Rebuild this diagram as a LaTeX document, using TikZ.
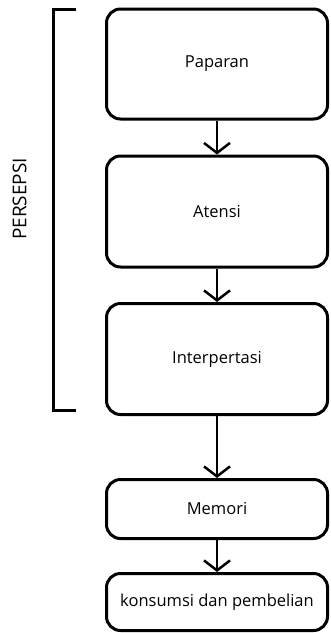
\documentclass[tikz,border=0pt]{standalone}
\usepackage{fontspec}
\setmainfont{Open Sans}
\usepackage{tikz}
\usetikzlibrary{arrows.meta, positioning}

\begin{document}
\begin{tikzpicture}[
	x=1pt, y=-1pt,
	stage/.style={rectangle,draw,line width=3pt,rounded corners=14pt,minimum width=221pt,font=\fontsize{16.5}{20}\selectfont},
	arrow/.style={line width=2.5pt,-{Straight Barb[length=10pt,width=26pt,line width=2.5pt]}}
]
\useasboundingbox (0,0) rectangle (330,633);

% Persepsi stages
\node[stage, minimum height=110pt] (paparan) at (217,64) {Paparan};
\node[stage, minimum height=111pt] (atensi) at (217,211.5) {Atensi};
\node[stage, minimum height=111pt] (interp) at (217,359) {Interpertasi};

% Later stages
\node[stage, minimum height=59pt] (memori) at (217,509) {Memori};
\node[stage, minimum height=57pt] (konsumsi) at (217,602) {konsumsi dan pembelian};

\draw[arrow] (paparan) -- (atensi);
\draw[arrow] (atensi) -- (interp);
\draw[arrow] (interp) -- (memori);
\draw[arrow] (memori) -- (konsumsi);

% Bracket
\coordinate (btop) at (76,9);
\coordinate (bbot) at (76,410);
\draw[line width=3pt] (btop) -- ++(-23,0) |- (bbot);
\node[rotate=90, font=\fontsize{19}{22}\selectfont] (persepsi) at (19.5,199) {PERSEPSI};

\end{tikzpicture}
\end{document}
